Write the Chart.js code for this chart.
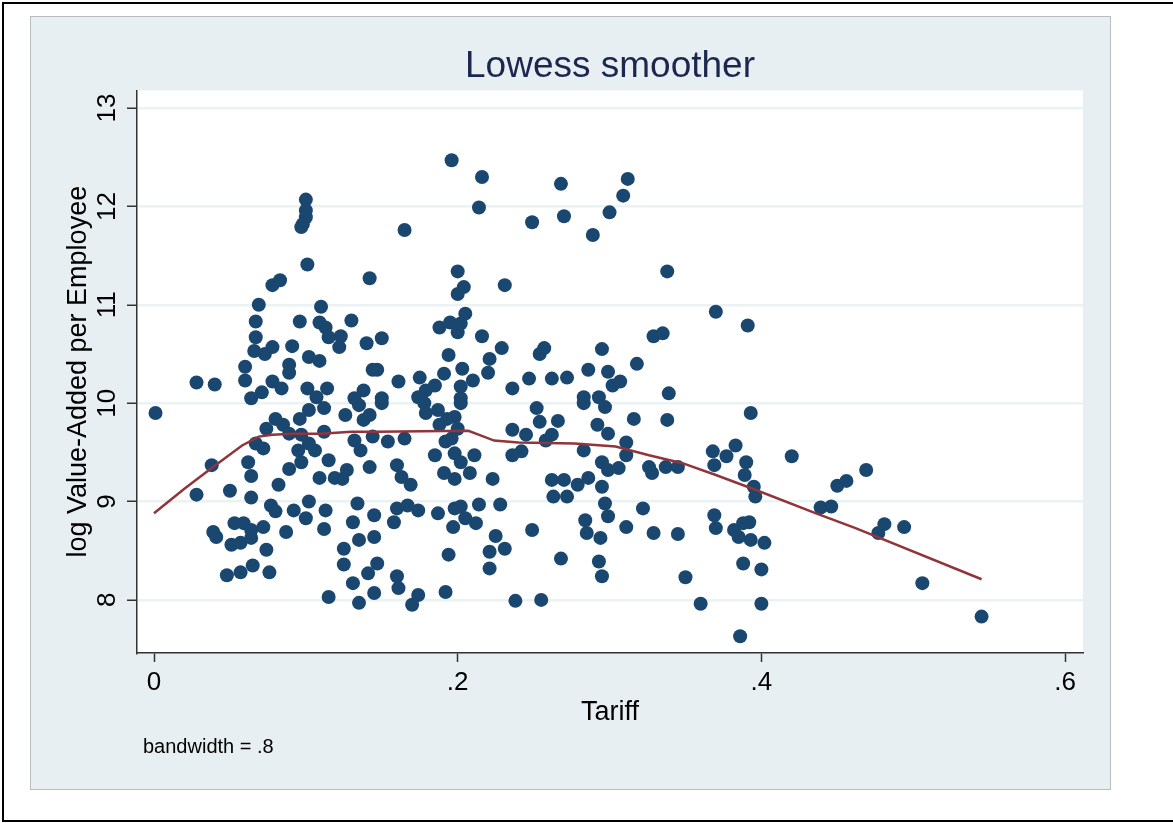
<!DOCTYPE html>
<html lang="en">

<head>
  <meta charset="UTF-8">
  <title>Lowess smoother</title>
  <script src="https://cdn.jsdelivr.net/npm/chart.js"></script>
  <style>
    body {
      margin: 0;
      width: 1173px;
      height: 823px;
      overflow: hidden;
      background: #fff;
      position: relative;
      font-family: "Liberation Sans", Arial, sans-serif;
    }

    .frame {
      position: absolute;
      left: 2px;
      top: 2px;
      width: 1200px;
      height: 820px;
      box-sizing: border-box;
      border: 2px solid #000;
    }

    .panel {
      position: absolute;
      left: 30px;
      top: 16px;
      width: 1081px;
      height: 774px;
      box-sizing: border-box;
      background: #e8eff2;
      border: 1px solid #b9bdc0;
    }

    canvas {
      position: absolute;
      left: 0;
      top: 0;
    }
  </style>
</head>

<body>
  <div class="frame"></div>
  <div class="panel"></div>
  <canvas id="chart" width="1173" height="823"></canvas>
  <script>
    // tariff (x) and log value-added per employee (y)
    const tariff = [
      // left cluster, upper part
      .100, .100, .100, .098, .097, .101, .078, .083, .069, .110,
      .067, .096, .109, .113, .130, .067, .115, .123, .122, .066,
      .073, .078, .091, .140, .142, .102, .109, .089, .089, .060,
      .060, .028, .040, .078, .084, .071, .064, .101, .114, .107,
      .138, .144, .132,
      // left cluster, lower part
      .001, .080, .085, .074, .096, .102, .112, .089, .097, .112,
      .126, .135, .138, .142, .067, .072, .095, .102, .106, .097,
      .115, .132, .136, .142, .144, .038, .062, .064, .089, .109,
      .119, .127, .124, .028, .050, .064, .082, .077, .080, .092,
      .102, .100, .113, .112, .134, .131, .135, .145, .145, .053,
      .059, .064, .072, .039, .041, .051, .057, .064, .087, .074,
      .125, .125, .048, .057, .065, .076, .115, .131, .135, .141,
      .145,
      // middle, upper part
      .196, .216, .214, .165, .249, .268, .270, .289, .300, .200,
      .204, .200, .231, .205, .188, .195, .200, .202, .150, .216,
      .229, .194, .221, .220, .203, .254, .257, .295, .286, .299,
      .302, .147, .161, .175, .191, .185, .179, .174, .202, .210,
      .202, .247, .262, .272, .236, .150, .283, .293,
      // middle, lower part
      .150, .178, .187, .193, .198, .202, .179, .188, .200, .192,
      .196, .154, .165, .185, .198, .202, .211, .160, .163, .169,
      .191, .198, .208, .223, .236, .245, .252, .254, .266, .262,
      .258, .242, .236, .283, .297, .292, .299, .283, .295, .299,
      .262, .270, .263, .272, .279, .286, .295, .147, .160, .167,
      .174, .158, .187, .198, .202, .205, .212, .197, .214, .228,
      .225, .221, .231, .221, .249, .194, .160, .161, .174, .170,
      .192, .238, .255, .268, .284, .285, .294, .293, .295, .297,
      .299,
      // right side
      .312, .309, .338, .370, .391, .329, .335, .318, .307, .339,
      .393, .316, .338, .311, .311, .306, .326, .328, .337, .345,
      .368, .369, .377, .383, .390, .389, .395, .396, .420, .450,
      .456, .439, .446, .322, .311, .329, .345, .369, .370, .382,
      .388, .392, .385, .393, .402, .388, .400, .350, .360, .400,
      .386, .469, .481, .477, .494, .506, .545
    ];

    const logVA = [
      12.07, 11.96, 11.89, 11.82, 11.79, 11.41, 11.20, 11.25, 11.00, 10.98,
      10.83, 10.83, 10.82, 10.77, 10.84, 10.67, 10.67, 10.68, 10.57, 10.53,
      10.50, 10.57, 10.58, 10.61, 11.27, 10.47, 10.43, 10.39, 10.31, 10.37,
      10.23, 10.21, 10.19, 10.22, 10.15, 10.11, 10.05, 10.15, 10.15, 10.06,
      10.13, 10.34, 10.05,

      9.90, 9.84, 9.78, 9.74, 9.84, 9.93, 9.95, 9.69, 9.68, 9.71,
      9.88, 9.98, 9.83, 9.88, 9.59, 9.54, 9.52, 9.59, 9.52, 9.40,
      9.42, 9.62, 9.52, 9.35, 9.66, 9.37, 9.40, 9.26, 9.33, 9.24,
      9.24, 9.32, 9.23, 9.07, 9.11, 9.04, 9.17, 8.96, 8.90, 8.91,
      9.00, 8.83, 8.91, 8.72, 8.98, 8.79, 8.61, 8.86, 8.64, 8.78,
      8.78, 8.71, 8.74, 8.69, 8.64, 8.56, 8.58, 8.63, 8.69, 8.51,
      8.52, 8.36, 8.25, 8.28, 8.35, 8.28, 8.03, 8.17, 7.97, 8.27,
      8.07,

      12.47, 12.30, 11.99, 11.76, 11.84, 12.23, 11.90, 11.71, 11.94, 11.34,
      11.18, 11.11, 11.20, 10.91, 10.77, 10.82, 10.72, 10.81, 10.66, 10.68,
      10.56, 10.49, 10.45, 10.31, 10.35, 10.50, 10.56, 10.55, 10.34, 10.32,
      10.18, 10.34, 10.22, 10.26, 10.30, 10.18, 10.13, 10.06, 10.17, 10.23,
      10.05, 10.25, 10.25, 10.26, 10.15, 10.05, 10.06, 10.06,

      10.00, 10.00, 9.93, 9.84, 9.86, 10.00, 9.90, 9.78, 9.74, 9.61,
      9.64, 9.61, 9.64, 9.47, 9.49, 9.40, 9.47, 9.37, 9.25, 9.17,
      9.29, 9.23, 9.29, 9.23, 9.73, 9.68, 9.95, 9.81, 9.82, 9.68,
      9.62, 9.51, 9.47, 10.00, 9.96, 9.78, 9.69, 9.52, 9.40, 9.32,
      9.22, 9.22, 9.05, 9.05, 9.17, 9.24, 9.15, 8.37, 8.93, 8.96,
      8.91, 8.79, 8.88, 8.93, 8.95, 8.83, 8.78, 8.74, 8.97, 8.97,
      8.65, 8.49, 8.52, 8.32, 8.71, 8.46, 8.24, 8.12, 8.05, 7.95,
      8.08, 7.99, 8.00, 8.42, 8.81, 8.68, 8.63, 8.39, 8.24, 8.98,
      8.85,

      12.28, 12.11, 11.34, 10.93, 10.79, 10.68, 10.71, 10.40, 10.22, 10.10,
      9.90, 9.84, 9.83, 9.60, 9.47, 9.34, 9.35, 9.29, 9.35, 9.35,
      9.51, 9.37, 9.46, 9.57, 9.40, 9.27, 9.15, 9.05, 9.46, 9.16,
      9.21, 8.94, 8.95, 8.93, 8.74, 8.68, 8.67, 8.86, 8.73, 8.71,
      8.78, 8.79, 8.64, 8.61, 8.58, 8.37, 8.31, 8.23, 7.96, 7.96,
      7.63, 9.32, 8.77, 8.68, 8.74, 8.17, 7.83
    ];

    // lowess curve as drawn
    const lowessX = [0, .020, .038, .058, .069, .078, .091, .110, .130, .146, .207, .212,
      .224, .240, .277, .304, .326, .348, .370, .396, .436, .462, .545];
    const lowessY = [8.88, 9.13, 9.34, 9.57, 9.66, 9.68, 9.69, 9.69, 9.71, 9.71, 9.72, 9.69,
      9.62, 9.60, 9.59, 9.56, 9.47, 9.39, 9.27, 9.12, 8.88, 8.73, 8.21];

    const xTicks = [0, .2, .4, .6];
    const xTickLabels = ['0', '.2', '.4', '.6'];
    const yTicks = [8, 9, 10, 11, 12, 13];

    const noteText = 'bandwidth = .8';
    const FONT = '"Liberation Sans", Arial, sans-serif';

    if (tariff.length !== logVA.length) console.log('length mismatch', tariff.length, logVA.length);

    const points = tariff.map((x, i) => ({ x: x, y: logVA[i] }));
    const curve = lowessX.map((x, i) => ({ x: x, y: lowessY[i] }));

    // white plot region, rotated y tick labels and the note
    const stataLook = {
      id: 'stataLook',
      beforeDraw(chart) {
        const a = chart.chartArea;
        const ctx = chart.ctx;
        ctx.save();
        ctx.fillStyle = '#fff';
        ctx.fillRect(a.left, a.top, a.right - a.left, a.bottom - a.top);
        ctx.restore();
      },
      afterDraw(chart) {
        const ctx = chart.ctx;
        const ys = chart.scales.y;
        ctx.save();
        ctx.fillStyle = '#000';
        ctx.font = '26px ' + FONT;
        ctx.textAlign = 'center';
        ctx.textBaseline = 'alphabetic';
        ys.ticks.forEach(t => {
          const py = ys.getPixelForValue(t.value);
          ctx.save();
          ctx.translate(ys.right - 22, py);
          ctx.rotate(-Math.PI / 2);
          ctx.fillText(String(t.value), 0, 0);
          ctx.restore();
        });
        ctx.font = '20px ' + FONT;
        ctx.textAlign = 'left';
        ctx.fillText(noteText, 143, 753);
        ctx.restore();
      }
    };

    new Chart(document.getElementById('chart'), {
      type: 'scatter',
      data: {
        datasets: [
          {
            type: 'line',
            label: 'lowess',
            data: curve,
            borderColor: '#90353b',
            borderWidth: 2.5,
            pointRadius: 0,
            fill: false,
            tension: 0,
            order: 0
          },
          {
            label: 'log Value-Added per Employee',
            data: points,
            backgroundColor: '#1a476f',
            borderWidth: 0,
            pointRadius: 7,
            order: 1
          }
        ]
      },
      options: {
        responsive: false,
        animation: false,
        devicePixelRatio: 1,
        layout: {
          padding: { left: 40, right: 90, top: 0, bottom: 90 }
        },
        plugins: {
          legend: { display: false },
          tooltip: { enabled: false },
          title: {
            display: true,
            text: 'Lowess smoother',
            fullSize: false,
            color: '#1b274f',
            font: { family: FONT, size: 37, weight: 'normal' },
            padding: { top: 45, bottom: 1 }
          }
        },
        scales: {
          x: {
            type: 'linear',
            min: -0.0112,
            max: 0.6118,
            afterBuildTicks: s => { s.ticks = xTicks.map(v => ({ value: v })); },
            afterFit: s => { s.height = 80; },
            ticks: {
              color: '#000',
              font: { family: FONT, size: 26 },
              padding: 5,
              maxRotation: 0,
              callback: (v, i) => xTickLabels[i]
            },
            grid: {
              drawOnChartArea: false,
              drawTicks: true,
              tickLength: 9,
              tickColor: '#333',
              tickWidth: 1.5
            },
            border: { color: '#333', width: 1.5 },
            title: {
              display: true,
              text: 'Tariff',
              color: '#000',
              font: { family: FONT, size: 27 },
              padding: { top: 0, bottom: 4 }
            }
          },
          y: {
            type: 'linear',
            min: 7.46,
            max: 13.18,
            afterBuildTicks: s => { s.ticks = yTicks.map(v => ({ value: v })); },
            afterFit: s => { s.width = 97; },
            ticks: { display: false },
            grid: {
              color: '#eaf2f3',
              lineWidth: 2.5,
              drawTicks: true,
              tickLength: 10,
              tickColor: '#333',
              tickWidth: 1.5
            },
            border: { color: '#333', width: 1.5 },
            title: {
              display: true,
              text: 'log Value-Added per Employee',
              color: '#000',
              font: { family: FONT, size: 27 },
              padding: { top: 22, bottom: 0 }
            }
          }
        }
      },
      plugins: [stataLook]
    });
  </script>
</body>

</html>
